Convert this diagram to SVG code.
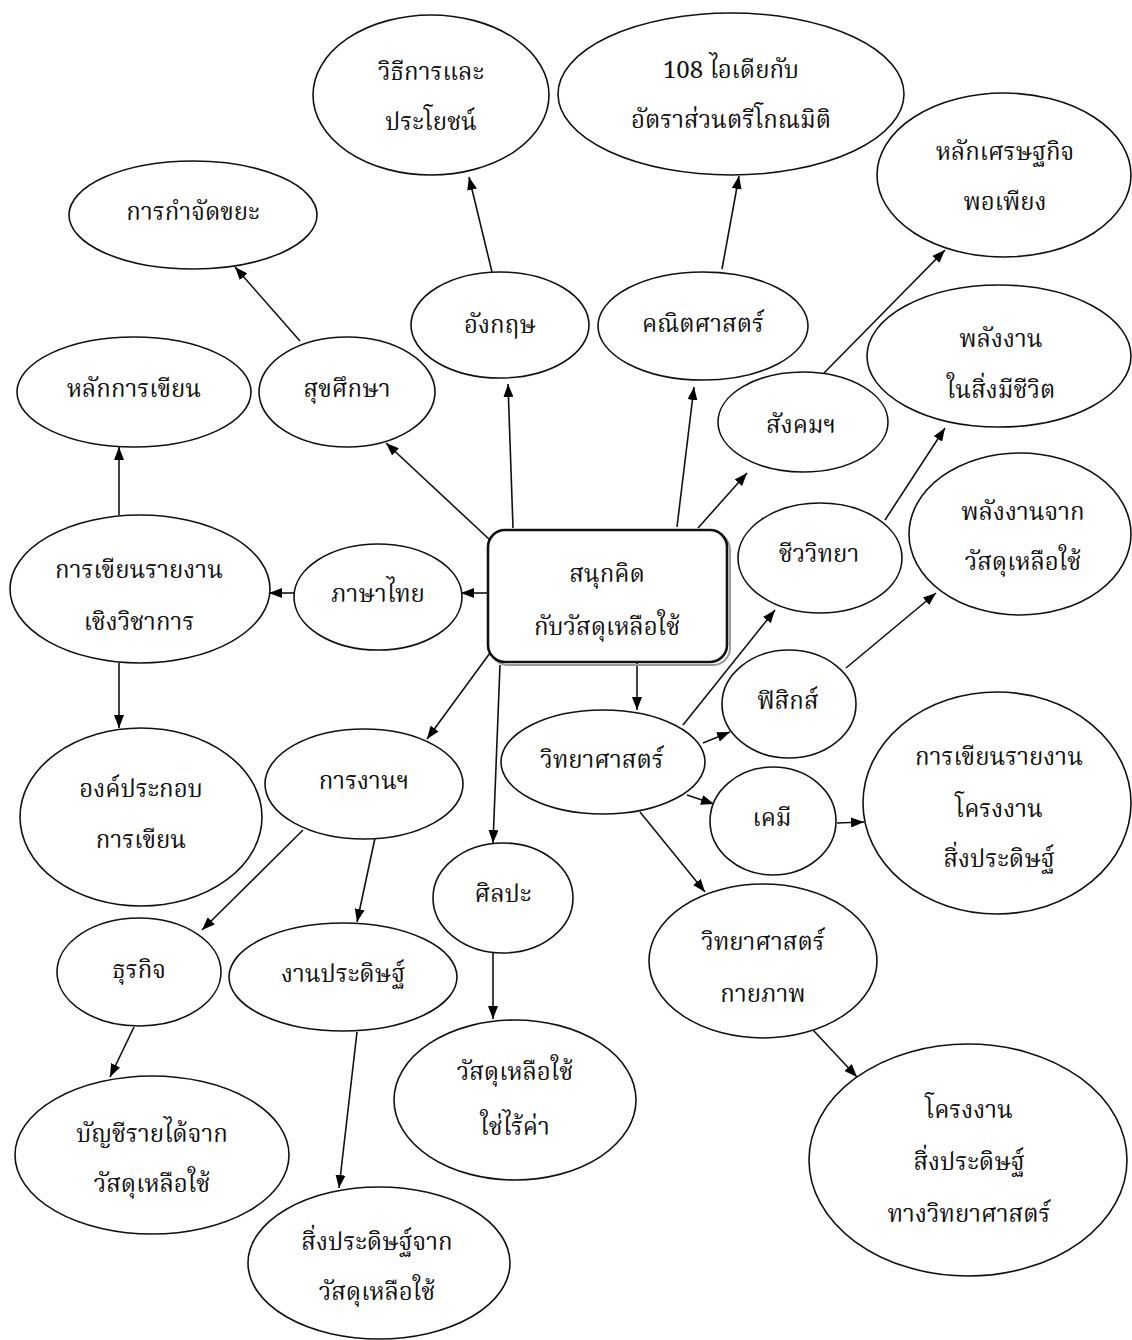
<svg xmlns="http://www.w3.org/2000/svg" width="1132" height="1340" viewBox="0 0 1132 1340">
<defs>
<marker id="ah" markerUnits="userSpaceOnUse" markerWidth="14" markerHeight="10" refX="13" refY="5" orient="auto">
<path d="M0,0 L13,5 L0,10 z" fill="#000"/>
</marker>
<style>
.n ellipse{fill:#fff;stroke:#111;stroke-width:1.6}
.n text,.c text{font-family:"Noto Serif Thai","Noto Sans Thai","Liberation Serif",serif;font-size:24px;fill:#111;text-anchor:middle}
#links line{stroke:#111;stroke-width:1.6;marker-end:url(#ah)}
</style>
</defs>
<rect width="1132" height="1340" fill="#fff"/>
<g id="links">
<line x1="490" y1="540" x2="386" y2="443"/>
<line x1="513" y1="528" x2="508" y2="384"/>
<line x1="677" y1="527" x2="694" y2="387"/>
<line x1="698" y1="528" x2="747" y2="473"/>
<line x1="487" y1="593" x2="461" y2="593"/>
<line x1="490" y1="653" x2="427" y2="739"/>
<line x1="500" y1="665" x2="493" y2="843"/>
<line x1="637" y1="663" x2="637" y2="710"/>
<line x1="300" y1="341" x2="235" y2="267"/>
<line x1="492" y1="272" x2="469" y2="177"/>
<line x1="722" y1="269" x2="739" y2="176"/>
<line x1="824" y1="373" x2="945" y2="250"/>
<line x1="885" y1="520" x2="945" y2="428"/>
<line x1="294" y1="593" x2="269" y2="593"/>
<line x1="119" y1="515" x2="119" y2="447"/>
<line x1="119" y1="663" x2="119" y2="728"/>
<line x1="303" y1="830" x2="202" y2="930"/>
<line x1="375" y1="838" x2="357" y2="922"/>
<line x1="134" y1="1027" x2="110" y2="1077"/>
<line x1="357" y1="1032" x2="339" y2="1188"/>
<line x1="493" y1="953" x2="493" y2="1019"/>
<line x1="683" y1="725" x2="775" y2="610"/>
<line x1="703" y1="743" x2="730" y2="732"/>
<line x1="687" y1="795" x2="714" y2="804"/>
<line x1="640" y1="812" x2="705" y2="892"/>
<line x1="846" y1="668" x2="936" y2="593"/>
<line x1="837" y1="823" x2="864" y2="822"/>
<line x1="813" y1="1030" x2="857" y2="1077"/>
</g>
<g id="center" class="c">
<rect x="491" y="533" width="239" height="132" rx="17" fill="none" stroke="#999" stroke-width="2"/>
<rect x="488" y="530" width="239" height="132" rx="17" fill="#fff" stroke="#111" stroke-width="2.6"/>
<text x="607" y="582">สนุกคิด</text>
<text x="607" y="635">กับวัสดุเหลือใช้</text>
</g>
<g id="n1" class="n"><ellipse cx="431" cy="95" rx="118" ry="80"/><text x="431" y="80">วิธีการและ</text><text x="431" y="130">ประโยชน์</text></g>
<g id="n2" class="n"><ellipse cx="731" cy="94" rx="173" ry="81"/><text x="731" y="78">108 ไอเดียกับ</text><text x="731" y="128">อัตราส่วนตรีโกณมิติ</text></g>
<g id="n3" class="n"><ellipse cx="1004" cy="175" rx="127" ry="82"/><text x="1005" y="160">หลักเศรษฐกิจ</text><text x="1005" y="210">พอเพียง</text></g>
<g id="n4" class="n"><ellipse cx="193" cy="215" rx="124" ry="54"/><text x="193" y="220">การกำจัดขยะ</text></g>
<g id="n5" class="n"><ellipse cx="500" cy="325" rx="89" ry="53"/><text x="500" y="333">อังกฤษ</text></g>
<g id="n6" class="n"><ellipse cx="703" cy="326" rx="105" ry="54"/><text x="703" y="332">คณิตศาสตร์</text></g>
<g id="n7" class="n"><ellipse cx="999" cy="356" rx="132" ry="71"/><text x="1001" y="347">พลังงาน</text><text x="1001" y="398">ในสิ่งมีชีวิต</text></g>
<g id="n8" class="n"><ellipse cx="134" cy="392" rx="117" ry="55"/><text x="134" y="397">หลักการเขียน</text></g>
<g id="n9" class="n"><ellipse cx="347" cy="392" rx="88" ry="55"/><text x="347" y="397">สุขศึกษา</text></g>
<g id="n10" class="n"><ellipse cx="803" cy="422" rx="85" ry="50"/><text x="801" y="433">สังคมฯ</text></g>
<g id="n11" class="n"><ellipse cx="820" cy="558" rx="82" ry="55"/><text x="819" y="562">ชีววิทยา</text></g>
<g id="n12" class="n"><ellipse cx="1020" cy="534" rx="111" ry="81"/><text x="1023" y="520">พลังงานจาก</text><text x="1023" y="570">วัสดุเหลือใช้</text></g>
<g id="n13" class="n"><ellipse cx="140" cy="589" rx="130" ry="74"/><text x="139" y="578">การเขียนรายงาน</text><text x="139" y="630">เชิงวิชาการ</text></g>
<g id="n14" class="n"><ellipse cx="378" cy="597" rx="84" ry="53"/><text x="378" y="602">ภาษาไทย</text></g>
<g id="n15" class="n"><ellipse cx="789" cy="704" rx="67" ry="54"/><text x="788" y="709">ฟิสิกส์</text></g>
<g id="n16" class="n"><ellipse cx="603" cy="762" rx="102" ry="52"/><text x="602" y="768">วิทยาศาสตร์</text></g>
<g id="n17" class="n"><ellipse cx="141" cy="817" rx="121" ry="89"/><text x="141" y="797">องค์ประกอบ</text><text x="141" y="848">การเขียน</text></g>
<g id="n18" class="n"><ellipse cx="364" cy="784" rx="99" ry="55"/><text x="364" y="789">การงานฯ</text></g>
<g id="n19" class="n"><ellipse cx="773" cy="821" rx="63" ry="54"/><text x="772" y="826">เคมี</text></g>
<g id="n20" class="n"><ellipse cx="997" cy="803" rx="134" ry="111"/><text x="999" y="765">การเขียนรายงาน</text><text x="999" y="817">โครงงาน</text><text x="999" y="867">สิ่งประดิษฐ์</text></g>
<g id="n21" class="n"><ellipse cx="503" cy="898" rx="70" ry="55"/><text x="503" y="902">ศิลปะ</text></g>
<g id="n22" class="n"><ellipse cx="139" cy="972" rx="82" ry="54"/><text x="139" y="978">ธุรกิจ</text></g>
<g id="n23" class="n"><ellipse cx="343" cy="977" rx="114" ry="54"/><text x="343" y="982">งานประดิษฐ์</text></g>
<g id="n24" class="n"><ellipse cx="763" cy="961" rx="114" ry="77"/><text x="763" y="950">วิทยาศาสตร์</text><text x="763" y="1002">กายภาพ</text></g>
<g id="n25" class="n"><ellipse cx="515" cy="1100" rx="121" ry="80"/><text x="515" y="1080">วัสดุเหลือใช้</text><text x="515" y="1135">ใช่ไร้ค่า</text></g>
<g id="n26" class="n"><ellipse cx="152" cy="1155" rx="137" ry="79"/><text x="152" y="1142">บัญชีรายได้จาก</text><text x="152" y="1192">วัสดุเหลือใช้</text></g>
<g id="n27" class="n"><ellipse cx="968" cy="1160" rx="159" ry="116"/><text x="969" y="1118">โครงงาน</text><text x="969" y="1170">สิ่งประดิษฐ์</text><text x="969" y="1222">ทางวิทยาศาสตร์</text></g>
<g id="n28" class="n"><ellipse cx="379" cy="1263" rx="131" ry="76"/><text x="377" y="1250">สิ่งประดิษฐ์จาก</text><text x="377" y="1300">วัสดุเหลือใช้</text></g>
</svg>
